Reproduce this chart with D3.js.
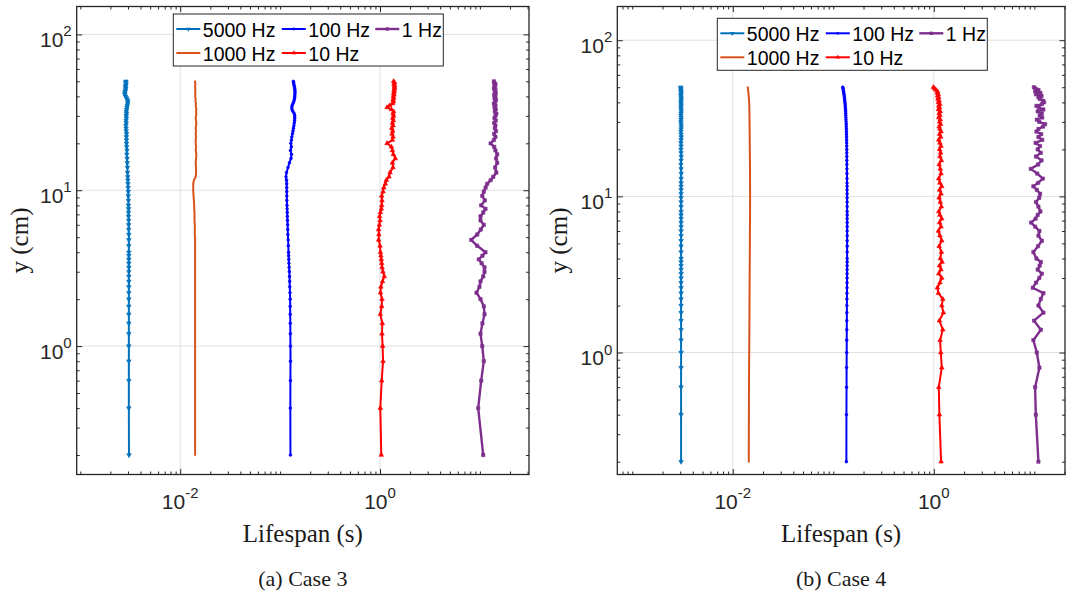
<!DOCTYPE html>
<html>
<head>
<meta charset="utf-8">
<script src="https://cdn.jsdelivr.net/npm/d3@7"></script>
<style>
  html, body { margin: 0; padding: 0; background: #ffffff; }
  svg { display: block; }
</style>
</head>
<body>
<svg id="chart" width="1073" height="599"></svg>
<script>
// ---------------------------------------------------------------------------
// Data: depth (cm) at which each lifespan (s) was sampled
// ---------------------------------------------------------------------------
const depthCm = [
  0.2, 0.4, 0.6, 0.8, 1.0, 1.2, 1.4, 1.6, 1.8, 2.0, 2.2, 2.4, 2.6, 2.8, 3.0, 3.2, 3.4, 3.6, 3.8, 4.0,
  4.4, 4.8, 5.2, 5.6, 6.0, 6.4, 6.8, 7.2, 7.6, 8.0,
  8.6, 9.2, 9.8, 10.4, 11.0, 11.6, 12.2,
  13, 14, 15, 16, 17, 18, 19, 20,
  21, 22, 23, 24, 25, 26, 27, 28, 29, 30, 31, 32, 33, 34, 35, 36, 37, 38, 39, 40,
  41, 42, 43, 44, 45, 46, 47, 48, 49, 50
];

const frequencyLabels = ["5000 Hz", "1000 Hz", "100 Hz", "10 Hz", "1 Hz"];
const captions = ["(a) Case 3", "(b) Case 4"];
const xTickExponents = [-2, 0];
const yTickExponents = [0, 1, 2];
const xAxisTitle = "Lifespan (s)";
const yAxisTitle = "y (cm)";

// Case 3 lifespans (s)
const case3Hz5000 = [
  0.00307, 0.00306, 0.00306, 0.00306, 0.00306, 0.00306, 0.00306, 0.00306, 0.00306, 0.00306,
  0.00306, 0.00306, 0.00306, 0.00306, 0.00306, 0.00306, 0.00306, 0.00306, 0.00306, 0.00306,
  0.00306, 0.00306, 0.00306, 0.00305, 0.00305, 0.00305, 0.00304, 0.00304, 0.00304, 0.00303,
  0.00303, 0.00302, 0.00302, 0.00301, 0.00300, 0.00299, 0.00298,
  0.00297, 0.00296, 0.00295, 0.00294, 0.00292, 0.00293, 0.00291, 0.00290,
  0.00290, 0.00289, 0.00290, 0.00288, 0.00287, 0.00286, 0.00288, 0.00287, 0.00289, 0.00288,
  0.00290, 0.00289, 0.00291, 0.00293, 0.00295, 0.00298, 0.00299, 0.00296, 0.00290, 0.00284,
  0.00279, 0.00279, 0.00281, 0.00283, 0.00285, 0.00283, 0.00285, 0.00287, 0.00285, 0.00286
];
const case3Hz1000 = [
  0.0141, 0.0141, 0.0141, 0.0141, 0.0141, 0.0141, 0.0141, 0.0141, 0.0141, 0.0141,
  0.0141, 0.0141, 0.0141, 0.0141, 0.0141, 0.0141, 0.0141, 0.0141, 0.0141, 0.0141,
  0.0141, 0.0141, 0.0140, 0.0140, 0.0140, 0.0139, 0.0139, 0.0139, 0.0138, 0.0138,
  0.0137, 0.0136, 0.0135, 0.0135, 0.0135, 0.0137, 0.0143,
  0.0144, 0.0144, 0.0143, 0.0144, 0.0145, 0.0143, 0.0144, 0.0143,
  0.0143, 0.0144, 0.0143, 0.0144, 0.0143, 0.0144, 0.0145, 0.0144, 0.0143, 0.0144,
  0.0145, 0.0144, 0.0145, 0.0144, 0.0143, 0.0144, 0.0142, 0.0143, 0.0142, 0.0141,
  0.0142, 0.0141, 0.0142, 0.0141, 0.0142, 0.0141, 0.0141, 0.0142, 0.0141, 0.0141
];
const case3Hz100 = [
  0.1269, 0.1265, 0.1268, 0.1270, 0.1269, 0.1266, 0.1264, 0.1262, 0.1261, 0.1260,
  0.1255, 0.1250, 0.1246, 0.1242, 0.1237, 0.1231, 0.1226, 0.1222, 0.1218, 0.1214,
  0.1208, 0.1203, 0.1196, 0.1193, 0.1190, 0.1185, 0.1181, 0.1178, 0.1175, 0.1172,
  0.1168, 0.1167, 0.1166, 0.1165, 0.1164, 0.1160, 0.1145,
  0.1160, 0.1200, 0.1240, 0.1285, 0.1300, 0.1270, 0.1295, 0.1280,
  0.1300, 0.1310, 0.1330, 0.1345, 0.1360, 0.1375, 0.1385, 0.1395, 0.1400, 0.1400,
  0.1385, 0.1345, 0.1315, 0.1310, 0.1320, 0.1345, 0.1370, 0.1385, 0.1395, 0.1400,
  0.1405, 0.1408, 0.1410, 0.1405, 0.1400, 0.1390, 0.1380, 0.1370, 0.1365, 0.1359
];
const case3Hz10 = [
  1.030, 1.007, 1.040, 1.072, 1.062, 1.047, 1.055, 1.007, 1.040, 1.047,
  1.010, 1.020, 1.060, 1.104, 1.070, 1.047, 1.040, 1.030, 1.020, 1.010,
  1.000, 0.968, 0.975, 0.968, 0.985, 1.000, 0.990, 1.010, 1.030, 1.040,
  1.047, 1.040, 1.072, 1.090, 1.130, 1.157, 1.230,
  1.260, 1.350, 1.330, 1.424, 1.360, 1.330, 1.300, 1.176,
  1.330, 1.350, 1.320, 1.340, 1.310, 1.350, 1.330, 1.360, 1.340, 1.370,
  1.350, 1.369, 1.300, 1.176, 1.250, 1.340, 1.360, 1.350, 1.370, 1.360,
  1.380, 1.370, 1.390, 1.380, 1.400, 1.390, 1.401, 1.380, 1.400, 1.369
];
const case3Hz1 = [
  10.79, 9.61, 10.30, 10.94, 10.55, 10.14, 10.60, 11.12, 10.94, 10.14,
  9.25, 9.90, 10.14, 10.80, 11.12, 11.12, 10.40, 9.75, 10.60, 11.37,
  9.40, 8.18, 9.40, 10.20, 10.94, 10.14, 10.14, 10.80, 11.37, 10.30,
  11.20, 10.55, 10.94, 11.40, 11.83, 12.80, 13.60,
  14.60, 14.20, 14.90, 14.50, 14.90, 14.30, 13.90, 12.80,
  13.8, 14.3, 13.9, 14.5, 14.1, 14.3, 13.9, 14.4, 14.0, 14.3,
  14.6, 14.1, 14.4, 14.0, 14.3, 13.8, 14.2, 14.5, 14.0, 14.3,
  13.9, 14.4, 14.1, 14.3, 13.8, 14.2, 14.0, 14.3, 13.9, 13.8
];

// Case 4 lifespans (s)
const case4Hz5000 = [
  0.00306, 0.00306, 0.00306, 0.00306, 0.00306, 0.00306, 0.00306, 0.00306, 0.00306, 0.00306,
  0.00306, 0.00306, 0.00306, 0.00306, 0.00306, 0.00306, 0.00306, 0.00306, 0.00306, 0.00306,
  0.00306, 0.00306, 0.00306, 0.00306, 0.00306, 0.00306, 0.00306, 0.00306, 0.00306, 0.00306,
  0.00306, 0.00306, 0.00306, 0.00306, 0.00306, 0.00306, 0.00306,
  0.00306, 0.00307, 0.00306, 0.00305, 0.00306, 0.00307, 0.00306, 0.00305,
  0.00306, 0.00305, 0.00306, 0.00307, 0.00306, 0.00305, 0.00306, 0.00307, 0.00306, 0.00305,
  0.00306, 0.00306, 0.00305, 0.00306, 0.00307, 0.00306, 0.00305, 0.00306, 0.00306, 0.00305,
  0.00306, 0.00307, 0.00306, 0.00305, 0.00306, 0.00306, 0.00305, 0.00305, 0.00304, 0.00304
];
const case4Hz1000 = [
  0.01443, 0.01447, 0.01450, 0.01453, 0.01458, 0.01460, 0.01462, 0.01464, 0.01466, 0.01467,
  0.01468, 0.01469, 0.01470, 0.01471, 0.01472, 0.01473, 0.01474, 0.01475, 0.01476, 0.01477,
  0.01478, 0.01479, 0.01480, 0.01480, 0.01481, 0.01482, 0.01483, 0.01484, 0.01485, 0.01486,
  0.01486, 0.01487, 0.01487, 0.01487, 0.01487, 0.01486, 0.01486,
  0.01485, 0.01484, 0.01483, 0.01482, 0.01481, 0.01480, 0.01479, 0.01478,
  0.01477, 0.01476, 0.01475, 0.01474, 0.01473, 0.01472, 0.01471, 0.01470, 0.01469, 0.01468,
  0.01467, 0.01466, 0.01465, 0.01464, 0.01463, 0.01462, 0.01461, 0.01460, 0.01458, 0.01456,
  0.01452, 0.01448, 0.01445, 0.01440, 0.01436, 0.01431, 0.01426, 0.01420, 0.01415, 0.01409
];
const case4Hz100 = [
  0.1350, 0.1352, 0.1355, 0.1357, 0.1360, 0.1361, 0.1363, 0.1364, 0.1365, 0.1366,
  0.1367, 0.1368, 0.1369, 0.1370, 0.1371, 0.1371, 0.1372, 0.1372, 0.1373, 0.1373,
  0.1373, 0.1374, 0.1373, 0.1374, 0.1373, 0.1374, 0.1374, 0.1373, 0.1374, 0.1373,
  0.1373, 0.1372, 0.1372, 0.1372, 0.1371, 0.1371, 0.1370,
  0.1369, 0.1368, 0.1367, 0.1366, 0.1365, 0.1364, 0.1363, 0.1362,
  0.1361, 0.1359, 0.1357, 0.1355, 0.1353, 0.1351, 0.1349, 0.1346, 0.1344, 0.1341,
  0.1338, 0.1335, 0.1332, 0.1330, 0.1327, 0.1323, 0.1319, 0.1315, 0.1311, 0.1306,
  0.1301, 0.1296, 0.1291, 0.1285, 0.1279, 0.1273, 0.1266, 0.1259, 0.1251, 0.1243
];
const case4Hz10 = [
  1.182, 1.137, 1.121, 1.201, 1.174, 1.155, 1.229, 1.137, 1.246, 1.201,
  1.229, 1.111, 1.086, 1.150, 1.200, 1.120, 1.180, 1.140, 1.210, 1.160,
  1.190, 1.130, 1.200, 1.150, 1.110, 1.180, 1.140, 1.200, 1.150, 1.120,
  1.190, 1.160, 1.130, 1.180, 1.140, 1.200, 1.150,
  1.120, 1.180, 1.160, 1.130, 1.190, 1.150, 1.170, 1.140,
  1.180, 1.150, 1.120, 1.170, 1.140, 1.180, 1.150, 1.130, 1.170, 1.140,
  1.160, 1.120, 1.150, 1.130, 1.160, 1.110, 1.140, 1.120, 1.150, 1.110,
  1.130, 1.100, 1.120, 1.090, 1.110, 1.080, 1.090, 1.050, 1.020, 0.991
];
const case4Hz1 = [
  10.99, 10.35, 10.19, 11.24, 10.59, 9.79, 11.61, 9.95, 12.32, 10.99,
  11.60, 12.32, 9.66, 10.40, 11.20, 11.88, 10.80, 11.30, 11.61, 10.50,
  9.79, 10.90, 11.88, 11.00, 11.24, 10.20, 9.29, 10.30, 10.80, 11.50,
  10.99, 10.40, 11.20, 11.42, 10.60, 9.79, 10.90,
  12.15, 10.70, 9.23, 10.90, 11.80, 10.40, 11.60, 10.80,
  11.42, 10.30, 12.00, 11.00, 11.70, 10.50, 10.99, 12.20, 12.81, 11.20,
  10.60, 12.00, 11.30, 11.88, 10.80, 12.30, 11.10, 10.50, 11.90, 12.50,
  12.24, 11.40, 10.99, 11.80, 10.40, 11.50, 10.20, 11.00, 10.30, 9.90
];

// ---------------------------------------------------------------------------
// Styling and layout
// ---------------------------------------------------------------------------
const seriesStyles = [
  { color: "#0072BD", marker: "down",   area: 9,  width: 2.0 },
  { color: "#D95319", marker: "none",   area: 0,  width: 2.0 },
  { color: "#0000FF", marker: "circle", area: 6,  width: 2.0 },
  { color: "#FF0000", marker: "up",     area: 9,  width: 2.0 },
  { color: "#7E2F8E", marker: "square", area: 11, width: 2.4 }
];
// legend slots (column, row) per series
const legendSlots = [[0, 0], [0, 1], [1, 0], [1, 1], [2, 0]];
const legendColumns = [3, 108.5, 202];

const AXIS_COLOR = "#262626";
const GRID_COLOR = "#dfdfdf";
const SANS = "'Liberation Sans', Arial, Helvetica, sans-serif";
const SERIF = "'Liberation Serif', 'Times New Roman', Times, serif";

const panels = [
  {
    caption: captions[0],
    lifespans: [case3Hz5000, case3Hz1000, case3Hz100, case3Hz10, case3Hz1],
    box: { left: 76.7, right: 529, top: 6.5, bottom: 474.5 },
    xDomain: [9.2e-4, 31],
    yDomain: [0.15, 151],
    legend: { x: 173.3, y: 14 },
    yTitleX: 28
  },
  {
    caption: captions[1],
    lifespans: [case4Hz5000, case4Hz1000, case4Hz100, case4Hz10, case4Hz1],
    box: { left: 617.3, right: 1065, top: 6.5, bottom: 474.5 },
    xDomain: [7.1e-4, 20.2],
    yDomain: [0.1656, 164.4],
    legend: { x: 717.3, y: 18.3 },
    yTitleX: 567
  }
];

const svg = d3.select("#chart");

function markerPath(style) {
  if (style.marker === "none") return null;
  const type = style.marker === "circle" ? d3.symbolCircle
             : style.marker === "square" ? d3.symbolSquare
             : d3.symbolTriangle;
  return d3.symbol().type(type).size(style.area)();
}

function markerRotation(style) {
  return style.marker === "down" ? 180 : 0;
}

// minor ticks: every k*10^d inside the domain that is not a labelled decade
function minorLogTicks(domain, majors) {
  const out = [];
  const lo = Math.floor(Math.log10(domain[0]));
  const hi = Math.ceil(Math.log10(domain[1]));
  for (let d = lo; d <= hi; d++) {
    for (let k = 1; k <= 9; k++) {
      const v = k * Math.pow(10, d);
      if (v < domain[0] || v > domain[1]) continue;
      if (majors.some(m => Math.abs(m - v) / m < 1e-9)) continue;
      out.push(v);
    }
  }
  return out;
}

function powerLabel(sel, exponent) {
  sel.append("tspan").text("10");
  sel.append("tspan")
    .attr("dy", -10.5)
    .attr("font-size", 15)
    .text(String(exponent));
}

function drawPanel(p) {
  const x = d3.scaleLog().domain(p.xDomain).range([p.box.left, p.box.right]);
  const y = d3.scaleLog().domain(p.yDomain).range([p.box.bottom, p.box.top]);
  const g = svg.append("g");

  const xMajor = xTickExponents.map(e => Math.pow(10, e));
  const yMajor = yTickExponents.map(e => Math.pow(10, e));
  const xMinor = minorLogTicks(p.xDomain, xMajor);
  const yMinor = minorLogTicks(p.yDomain, yMajor);

  // grid on labelled decades
  const grid = g.append("g").attr("stroke", GRID_COLOR).attr("stroke-width", 1);
  grid.selectAll("line.gx").data(xMajor).join("line")
    .attr("x1", d => x(d)).attr("x2", d => x(d))
    .attr("y1", p.box.top).attr("y2", p.box.bottom);
  grid.selectAll("line.gy").data(yMajor).join("line")
    .attr("y1", d => y(d)).attr("y2", d => y(d))
    .attr("x1", p.box.left).attr("x2", p.box.right);

  // data series
  const clipId = "clip-" + p.caption.replace(/[^a-z0-9]/gi, "");
  svg.append("defs").append("clipPath").attr("id", clipId)
    .append("rect")
    .attr("x", p.box.left).attr("y", p.box.top)
    .attr("width", p.box.right - p.box.left)
    .attr("height", p.box.bottom - p.box.top);

  const plot = g.append("g").attr("clip-path", `url(#${clipId})`);
  const line = d3.line().x(d => x(d.t)).y(d => y(d.depth));

  p.lifespans.forEach((values, i) => {
    const style = seriesStyles[i];
    const pts = values.map((t, j) => ({ t, depth: depthCm[j] }));
    plot.append("path")
      .datum(pts)
      .attr("d", line)
      .attr("fill", "none")
      .attr("stroke", style.color)
      .attr("stroke-width", style.width)
      .attr("stroke-linejoin", "round")
      .attr("stroke-linecap", "round");
    const mp = markerPath(style);
    if (mp) {
      plot.append("g").selectAll("path").data(pts).join("path")
        .attr("d", mp)
        .attr("transform", d => `translate(${x(d.t)},${y(d.depth)}) rotate(${markerRotation(style)})`)
        .attr("fill", style.color)
        .attr("stroke", style.color)
        .attr("stroke-width", 0.6);
    }
  });

  // axes: inward ticks on all four sides
  const axesG = g.append("g").attr("color", AXIS_COLOR);
  const addAxis = (axisFn, scale, values, size, transform) => {
    axesG.append("g")
      .attr("transform", transform)
      .call(axisFn(scale).tickValues(values).tickSizeInner(-size).tickSizeOuter(0).tickFormat(""))
      .call(s => s.select(".domain").remove())
      .call(s => s.selectAll("line").attr("stroke-width", 1));
  };
  const MAJ = 5.5, MIN = 3;
  addAxis(d3.axisBottom, x, xMajor, MAJ, `translate(0,${p.box.bottom})`);
  addAxis(d3.axisBottom, x, xMinor, MIN, `translate(0,${p.box.bottom})`);
  addAxis(d3.axisTop, x, xMajor, MAJ, `translate(0,${p.box.top})`);
  addAxis(d3.axisTop, x, xMinor, MIN, `translate(0,${p.box.top})`);
  addAxis(d3.axisLeft, y, yMajor, MAJ, `translate(${p.box.left},0)`);
  addAxis(d3.axisLeft, y, yMinor, MIN, `translate(${p.box.left},0)`);
  addAxis(d3.axisRight, y, yMajor, MAJ, `translate(${p.box.right},0)`);
  addAxis(d3.axisRight, y, yMinor, MIN, `translate(${p.box.right},0)`);

  // frame
  g.append("rect")
    .attr("x", p.box.left).attr("y", p.box.top)
    .attr("width", p.box.right - p.box.left)
    .attr("height", p.box.bottom - p.box.top)
    .attr("fill", "none")
    .attr("stroke", AXIS_COLOR)
    .attr("stroke-width", 1.3);

  // tick labels
  xTickExponents.forEach(e => {
    g.append("text")
      .attr("x", x(Math.pow(10, e)))
      .attr("y", p.box.bottom + 34)
      .attr("text-anchor", "middle")
      .attr("font-family", SANS)
      .attr("font-size", 21)
      .attr("fill", AXIS_COLOR)
      .call(powerLabel, e);
  });
  yTickExponents.forEach(e => {
    g.append("text")
      .attr("x", p.box.left - 5)
      .attr("y", y(Math.pow(10, e)) + 12.5)
      .attr("text-anchor", "end")
      .attr("font-family", SANS)
      .attr("font-size", 21)
      .attr("fill", AXIS_COLOR)
      .call(powerLabel, e);
  });

  // axis titles and caption
  const cx = (p.box.left + p.box.right) / 2;
  g.append("text")
    .attr("x", cx).attr("y", 542)
    .attr("text-anchor", "middle")
    .attr("font-family", SERIF).attr("font-size", 25)
    .attr("fill", "#1a1a1a")
    .text(xAxisTitle);
  g.append("text")
    .attr("transform", `translate(${p.yTitleX},${(p.box.top + p.box.bottom) / 2}) rotate(-90)`)
    .attr("text-anchor", "middle")
    .attr("font-family", SERIF).attr("font-size", 25)
    .attr("fill", "#1a1a1a")
    .text(yAxisTitle);
  g.append("text")
    .attr("x", cx).attr("y", 586)
    .attr("text-anchor", "middle")
    .attr("font-family", SERIF).attr("font-size", 22)
    .attr("fill", "#1a1a1a")
    .text(p.caption);

  // legend
  const lg = g.append("g").attr("transform", `translate(${p.legend.x},${p.legend.y})`);
  lg.append("rect")
    .attr("width", 270).attr("height", 52)
    .attr("fill", "#ffffff")
    .attr("stroke", AXIS_COLOR).attr("stroke-width", 1);
  frequencyLabels.forEach((label, i) => {
    const style = seriesStyles[i];
    const [col, row] = legendSlots[i];
    const x0 = legendColumns[col];
    const lineY = row === 0 ? 15 : 39;
    const item = lg.append("g");
    item.append("line")
      .attr("x1", x0).attr("x2", x0 + 24)
      .attr("y1", lineY).attr("y2", lineY)
      .attr("stroke", style.color)
      .attr("stroke-width", style.width);
    const mp = markerPath(style);
    if (mp) {
      item.append("path")
        .attr("d", mp)
        .attr("transform", `translate(${x0 + 12},${lineY}) rotate(${markerRotation(style)})`)
        .attr("fill", style.color);
    }
    item.append("text")
      .attr("x", x0 + 26.5)
      .attr("y", lineY + 8)
      .attr("font-family", SANS)
      .attr("font-size", 19.5)
      .attr("fill", "#000000")
      .text(label);
  });
}

panels.forEach(drawPanel);
</script>
</body>
</html>
